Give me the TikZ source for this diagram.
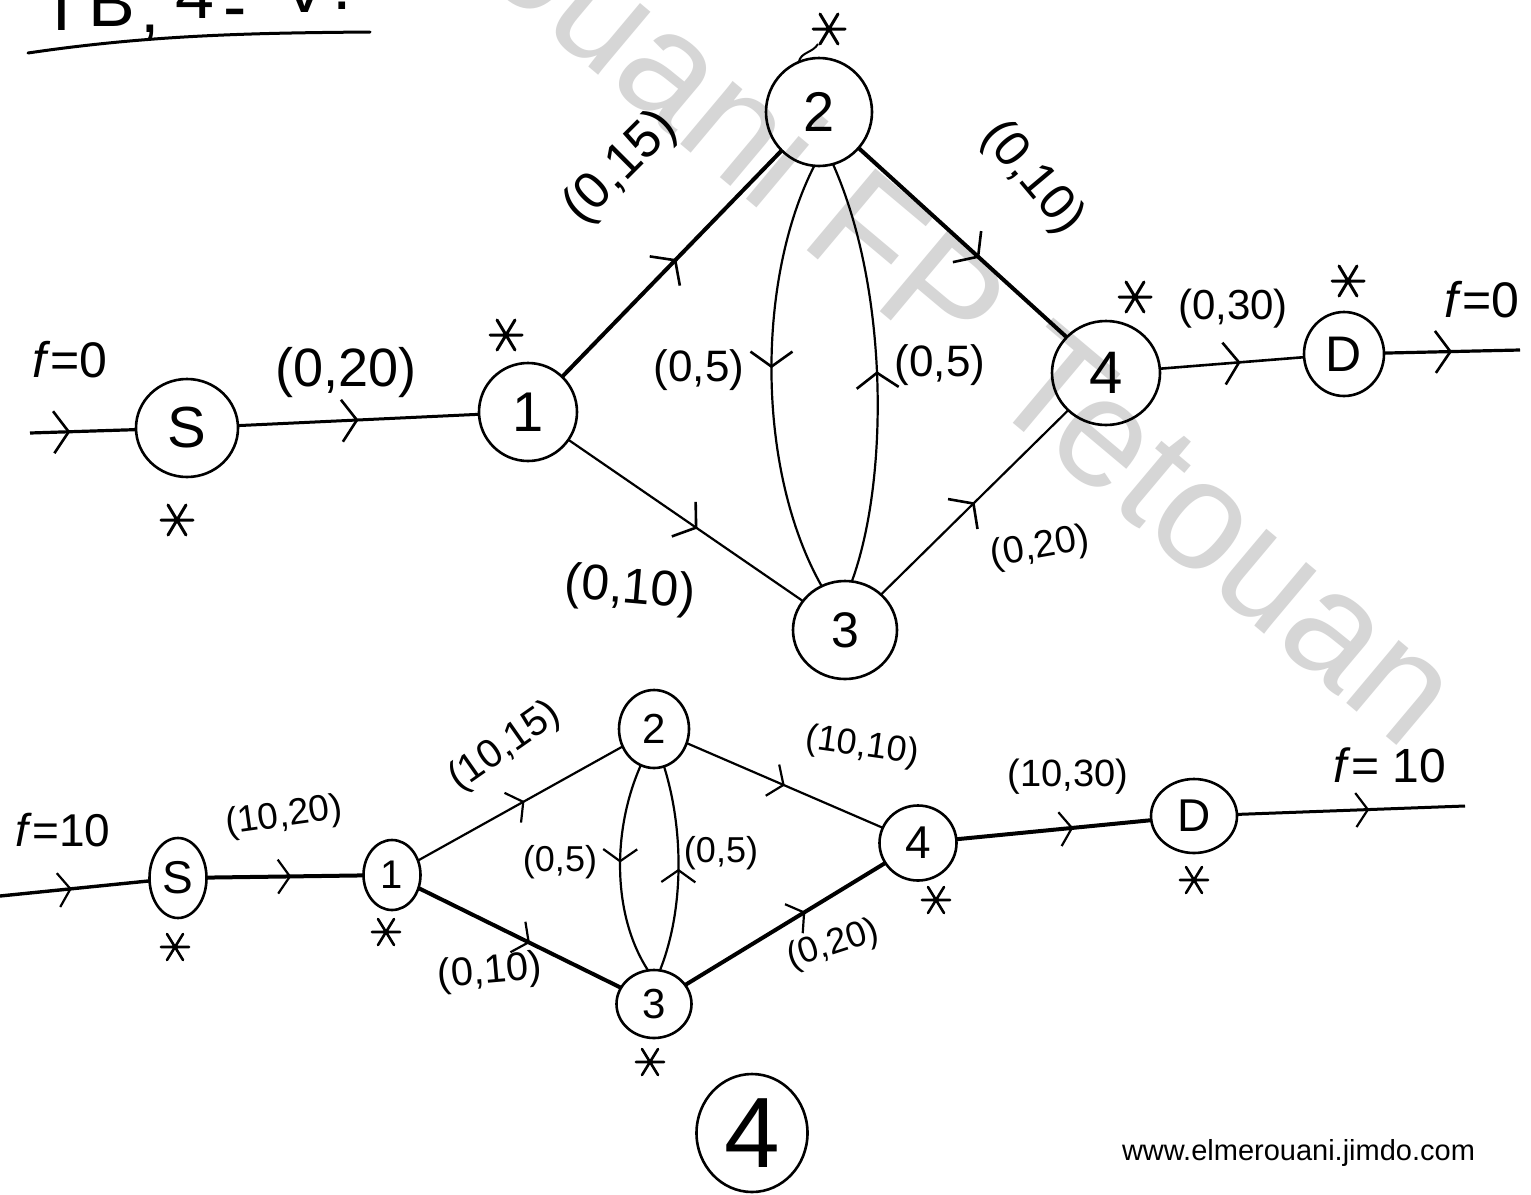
\documentclass[tikz,border=0pt]{standalone}
\usepackage{fontspec}
\setmainfont{Liberation Sans}
\usetikzlibrary{arrows.meta,decorations.markings,shapes.geometric}
\newcommand\fsz[1]{\fontsize{#1}{#1}\selectfont}
\begin{document}
\begin{tikzpicture}[x=1pt,y=-1pt,
  every node/.style={inner sep=0pt, outer sep=0pt},
  nd/.style={draw, ellipse, line width=2.6pt},
  lab/.style={font=\fsz{#1}},
  midarr/.style={postaction={decorate}, decoration={markings, mark=at position #1 with {\arrow{Straight Barb[length=15pt,width=42pt,line width=2.6pt]}}}},
  smarr/.style={postaction={decorate}, decoration={markings, mark=at position #1 with {\arrow{Straight Barb[length=12pt,width=34pt,line width=2.2pt]}}}},
  astk/.pic={\draw[line width=3pt, line cap=round] (-16,0)--(16,0) (-9,-15)--(9,15) (-9,15)--(9,-15);},
  sastk/.pic={\draw[line width=2.6pt, line cap=round] (-14,0)--(14,0) (-8,-13)--(8,13) (-8,13)--(8,-13);}
]
\useasboundingbox (0,0) rectangle (1531,1194);
\fill[white] (0,0) rectangle (1531,1194);

% watermark
\node[rotate=-40, anchor=base east, text=black!16, font=\fsz{155}] (wm) at (1405,752) {Merouani FP Tetouan};

% title (cut off at top)
\node[anchor=base, font=\fsz{70}] (tT) at (62,30) {T};
\node[anchor=base, font=\fsz{70}] (tB) at (112,26) {B};
\node[anchor=base, font=\fsz{70}] (tc) at (150,32) {,};
\node[anchor=base, font=\fsz{70}] (t4) at (195,18) {4};
\node[anchor=base, font=\fsz{70}] (td) at (235,30) {-};
\node[anchor=base, font=\fsz{70}] (tV) at (305,12) {V};
\node[anchor=base, font=\fsz{70}] (tp) at (342,9) {.};
\draw[line width=3pt, line cap=round] (28,53) .. controls (150,35) and (250,33) .. (370,32);

% ===== top network =====
\node[nd, minimum width=102pt, minimum height=98pt, font=\fsz{58}] (S) at (187,428) {S};
\node[nd, minimum width=98pt, minimum height=98pt, font=\fsz{56}] (N1) at (528,412) {1};
\node[nd, minimum width=106pt, minimum height=108pt, font=\fsz{56}] (N2) at (819,112) {2};
\node[nd, minimum width=104pt, minimum height=98pt, font=\fsz{50}] (N3) at (845,630) {3};
\node[nd, minimum width=108pt, minimum height=104pt, font=\fsz{60}] (N4) at (1106,373) {4};
\node[nd, minimum width=80pt, minimum height=84pt, font=\fsz{50}] (D) at (1344,354) {D};
\coordinate (inA) at (30,433);
\coordinate (outA) at (1520,350);

\draw[line width=3.2pt, midarr=0.38] (inA) -- (S);
\draw[line width=3pt, midarr=0.5] (S) -- (N1);
\draw[line width=4pt, midarr=0.52] (N1) -- (N2);
\draw[line width=4pt, midarr=0.58] (N2) -- (N4);
\draw[line width=2.2pt, midarr=0.55] (N1) -- (N3);
\draw[line width=2.2pt, midarr=0.5] (N3) -- (N4);
\draw[line width=2.6pt, midarr=0.56] (N4) -- (D);
\draw[line width=3.2pt, midarr=0.5] (D) -- (outA);
\draw[line width=2.2pt, midarr=0.48] (N2.265) .. controls (756,280) and (756,470) .. (N3.118);
\draw[line width=2.2pt, midarr=0.5] (N3.82) .. controls (889,480) and (889,290) .. (N2.285);

\node[lab=50] (fA) at (70,360) {\textit{f}=0};
\node[lab=54] (l1) at (346,373) {(0,20)};
\node[lab=52, rotate=45] (l2) at (621,168) {(0,15)};
\node[lab=50, rotate=-50] (l3) at (1032,178) {(0,10)};
\node[lab=44] (l4) at (699,370) {(0,5)};
\node[lab=44] (l5) at (940,365) {(0,5)};
\node[lab=50, rotate=-5] (l6) at (630,590) {(0,10)};
\node[lab=38, rotate=10] (l7) at (1040,548) {(0,20)};
\node[lab=42] (l8) at (1233,309) {(0,30)};
\node[lab=50] (fB) at (1482,300) {\textit{f}=0};

\pic (sS) at (177,520) {astk};
\pic (s1) at (506,335) {astk};
\pic (s2) at (829,29) {astk};
\pic (s4) at (1135,297) {astk};
\pic (sD) at (1348,281) {astk};
\coordinate (tail2) at (818,44);
\draw[line width=2pt] (tail2) to[out=-120,in=80] (N2.112);

% ===== bottom network =====
\node[nd, minimum width=57pt, minimum height=80pt, font=\fsz{46}] (Sb) at (178,878) {S};
\node[nd, minimum width=57pt, minimum height=70pt, font=\fsz{40}] (B1) at (392,875) {1};
\node[nd, minimum width=70pt, minimum height=78pt, font=\fsz{42}] (B2) at (654,729) {2};
\node[nd, minimum width=75pt, minimum height=68pt, font=\fsz{42}] (B3) at (654,1004) {3};
\node[nd, minimum width=77pt, minimum height=75pt, font=\fsz{46}] (B4) at (918,843) {4};
\node[nd, minimum width=86pt, minimum height=74pt, font=\fsz{46}] (Db) at (1194,816) {D};
\coordinate (inB) at (0,896);
\coordinate (outB) at (1465,806);

\draw[line width=3.4pt, smarr=0.48] (inB) -- (Sb);
\draw[line width=4pt, smarr=0.54] (Sb) -- (B1);
\draw[line width=2.2pt, smarr=0.52] (B1) -- (B2);
\draw[line width=4pt, smarr=0.55] (B1) -- (B3);
\draw[line width=2.2pt, smarr=0.5] (B2) -- (B4);
\draw[line width=4pt, smarr=0.6] (B3) -- (B4);
\draw[line width=4pt, smarr=0.6] (B4) -- (Db);
\draw[line width=3pt, smarr=0.58] (Db) -- (outB);
\draw[line width=2.2pt, smarr=0.47] (B2.250) .. controls (612,830) and (612,915) .. (B3.100);
\draw[line width=2.2pt, smarr=0.5] (B3.80) .. controls (684,910) and (684,830) .. (B2.285);

\node[lab=46] (fC) at (63,830) {\textit{f}=10};
\node[lab=37, rotate=8] (m1) at (284,817) {(10,20)};
\node[lab=40, rotate=35] (m2) at (505,747) {(10,15)};
\node[lab=36] (m3) at (560,862) {(0,5)};
\node[lab=36] (m4) at (721,853) {(0,5)};
\node[lab=40, rotate=5] (m5) at (490,973) {(0,10)};
\node[lab=36, rotate=-8] (m6) at (862,747) {(10,10)};
\node[lab=36, rotate=18] (m7) at (833,945) {(0,20)};
\node[lab=38] (m8) at (1068,777) {(10,30)};
\node[lab=48] (fD) at (1390,765) {\textit{f}= 10};

\pic (tS) at (175,947) {sastk};
\pic (t1) at (386,932) {sastk};
\pic (t3) at (650,1062) {sastk};
\pic (t4) at (936,900) {sastk};
\pic (tD) at (1194,880) {sastk};

% big circled 4
\node[nd, minimum width=111pt, minimum height=118pt, font=\fsz{100}] (big4) at (752,1133) {4};

% footer
\node[anchor=base west, font=\fsz{29}] (url) at (1122,1160) {www.elmerouani.jimdo.com};
\end{tikzpicture}
\end{document}
